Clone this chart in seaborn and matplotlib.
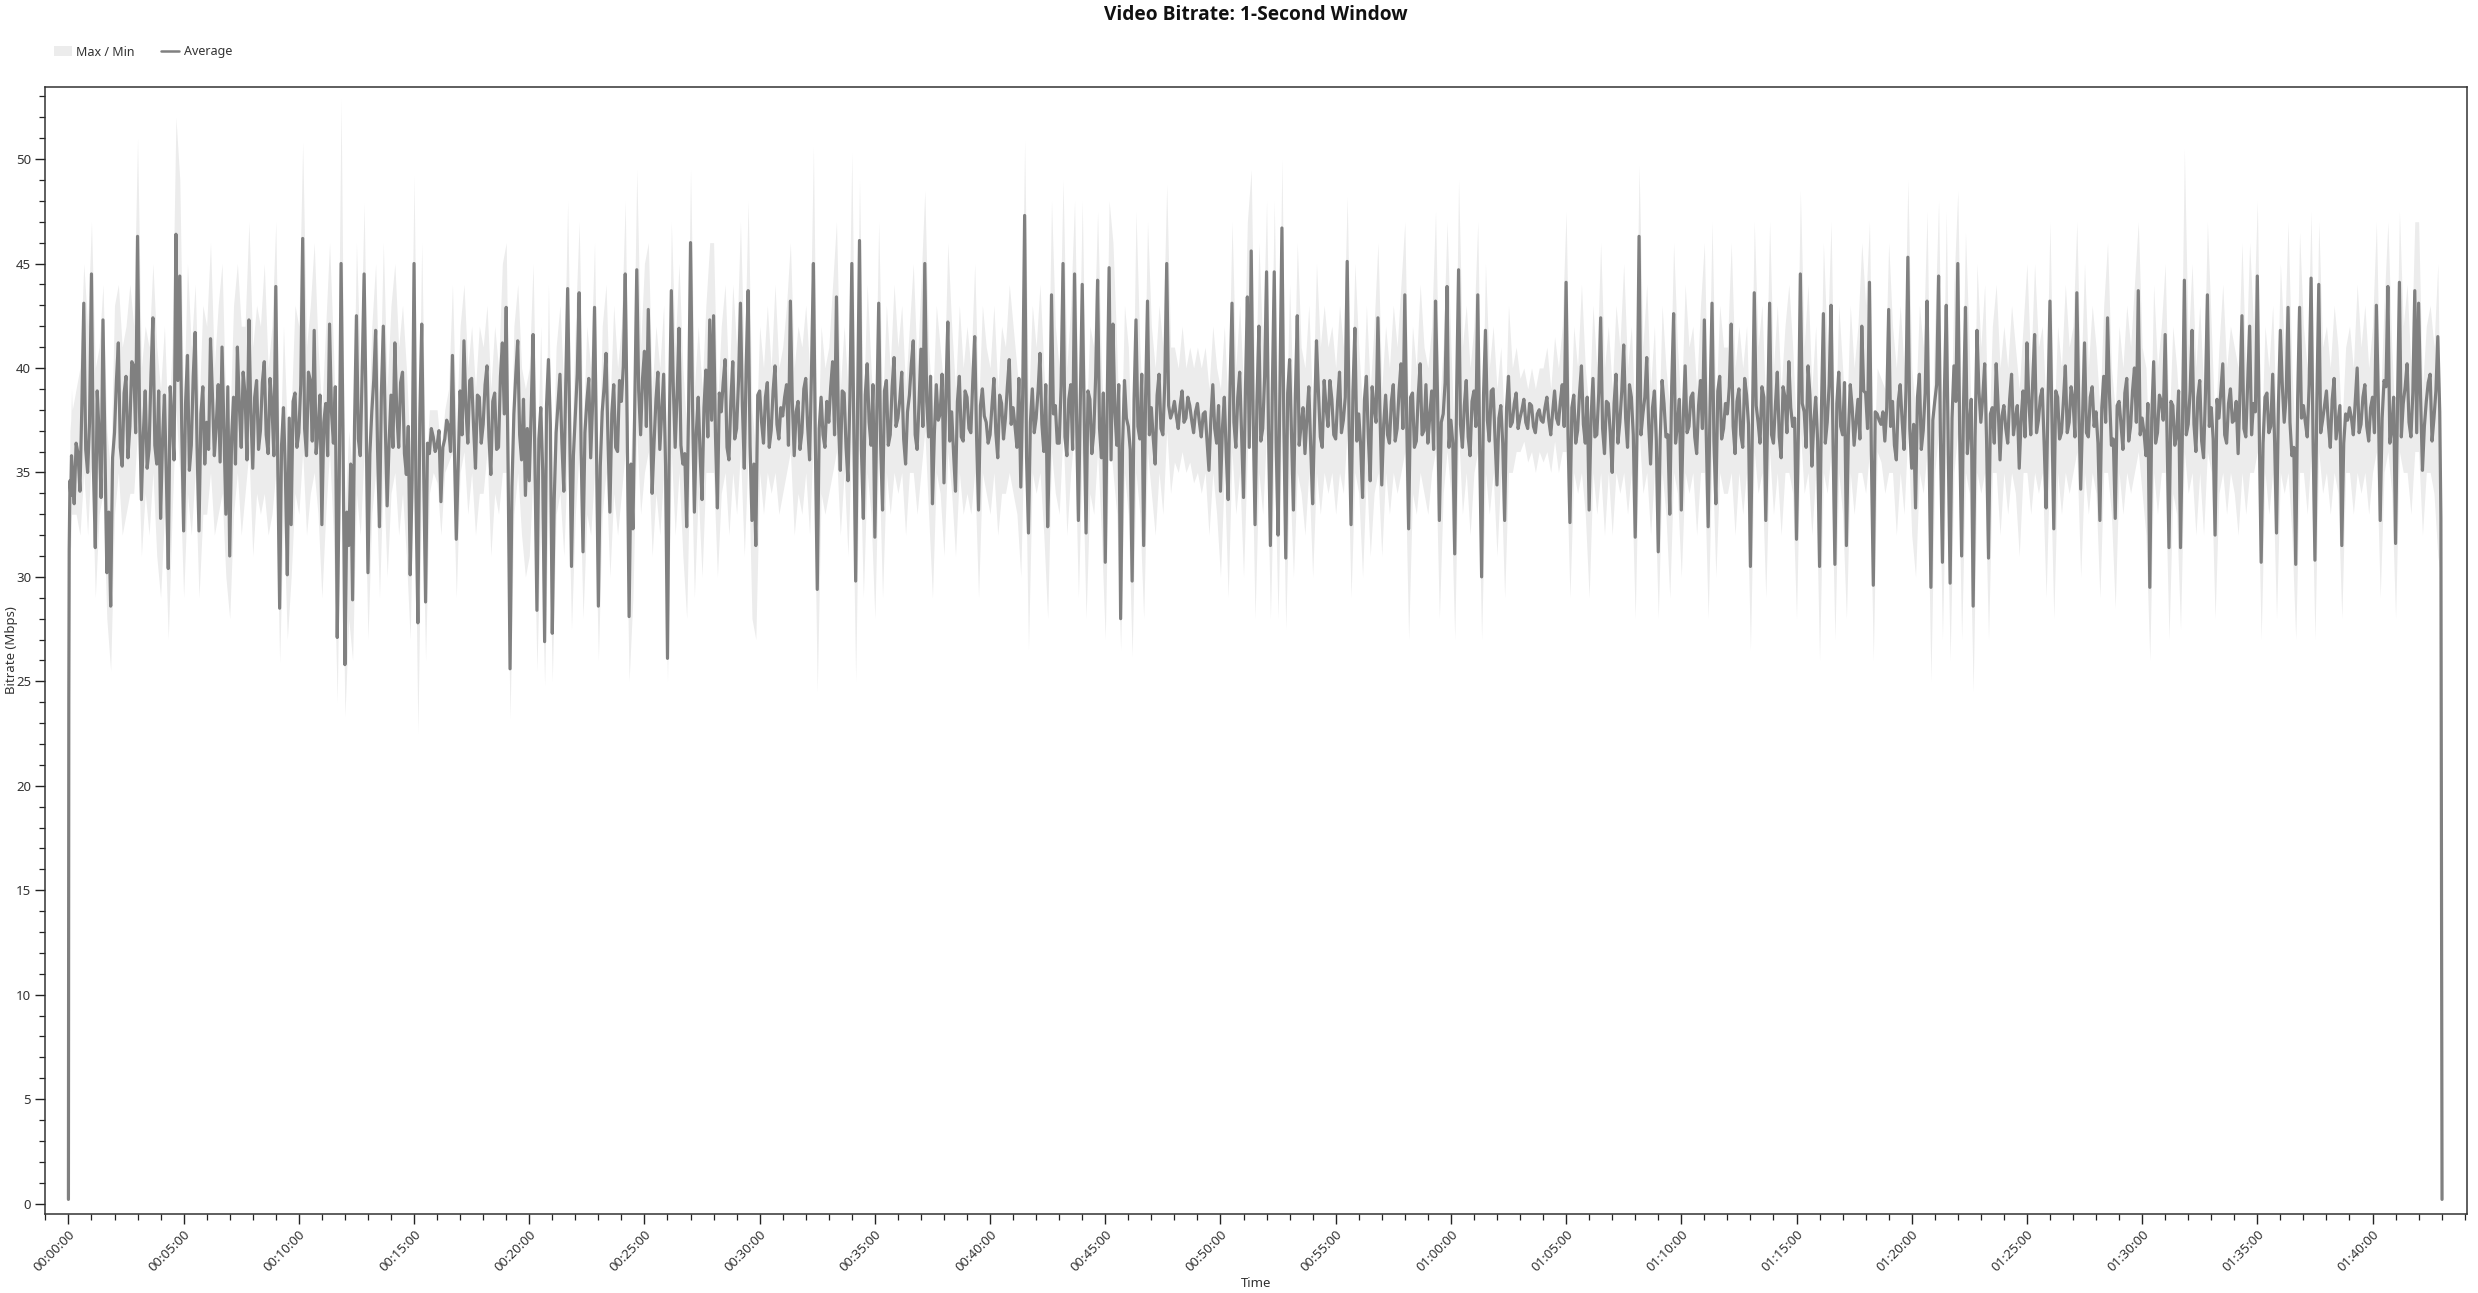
import numpy as np
import pandas as pd
import matplotlib
matplotlib.use("Agg")
import matplotlib.pyplot as plt
from matplotlib.ticker import MultipleLocator, FuncFormatter
from matplotlib.patches import Patch
from matplotlib.lines import Line2D
from matplotlib import font_manager
import seaborn as sns

# ---------------- data (Mbps) ----------------
# first seconds (ramp-up)
start_seconds = [0, 1, 2, 4, 6, 8]
start_avg = [0.2, 24.2, 31.3, 34.6, 33.9, 35.8]
start_max = [0.3, 26.0, 33.5, 37.0, 37.5, 39.0]
start_min = [0.0, 17.5, 24.0, 31.0, 31.5, 33.0]

# average, samples at t = 10, 20, 30 ... s (one row per minute)
avg_rows = [
    [35.2, 36.4, 34.1, 43.1, 35.0],
    [44.5, 31.4, 36.8, 42.3, 30.2, 28.6],
    [36.9, 41.2, 35.3, 39.6, 37.2, 40.1],
    [46.3, 33.7, 38.9, 36.1, 42.4, 35.4],
    [32.8, 38.7, 30.4, 37.5, 46.4, 44.4],
    [32.2, 40.6, 36.3, 41.7, 32.2, 39.1],
    [37.4, 41.4, 35.8, 39.2, 41.0, 33.0],
    [31.0, 38.6, 41.0, 36.2, 38.7, 42.3],
    [35.2, 39.4, 37.0, 40.3, 35.9, 38.2],
    [43.9, 28.5, 38.1, 30.1, 32.5, 38.8],
    [36.9, 46.2, 35.8, 39.4, 41.8, 37.0],
    [32.5, 38.3, 42.1, 36.4, 27.1, 45.0],
    [25.8, 31.5, 28.9, 42.5, 35.8, 44.5],
    [30.2, 37.9, 41.8, 32.4, 42.0, 33.4],
    [38.7, 41.2, 36.2, 39.8, 34.9, 30.1],
    [45.0, 27.8, 42.1, 28.8, 35.9, 36.7],
    [36.3, 33.6, 36.6, 37.2, 40.6, 31.8],
    [38.9, 41.3, 36.4, 39.5, 35.2, 38.6],
    [37.3, 40.1, 34.9, 38.8, 36.2, 41.2],
    [42.9, 25.6, 37.8, 41.3, 35.6, 33.9],
    [34.6, 41.6, 28.4, 38.1, 26.9, 40.4],
    [27.3, 36.9, 39.7, 34.1, 43.8, 30.5],
    [37.8, 43.6, 31.2, 38.4, 35.7, 42.9],
    [28.6, 37.9, 40.7, 33.1, 39.2, 36.0],
    [38.4, 44.5, 28.1, 32.3, 44.7, 36.8],
    [40.8, 42.8, 34.0, 38.5, 36.1, 39.7],
    [26.1, 43.7, 36.2, 41.9, 35.4, 32.4],
    [46.0, 33.1, 38.6, 33.7, 39.9, 42.3],
    [42.5, 33.3, 37.9, 40.4, 35.6, 40.3],
    [37.1, 43.1, 35.2, 43.7, 32.7, 31.5],
    [38.9, 36.4, 39.3, 37.0, 40.1, 36.6],
    [37.7, 39.2, 43.2, 35.8, 38.4, 36.9],
    [39.5, 35.6, 45.0, 29.4, 38.6, 36.2],
    [37.4, 40.3, 43.4, 35.1, 38.8, 34.6],
    [45.0, 29.8, 46.1, 32.8, 40.2, 36.3],
    [31.9, 43.1, 33.2, 39.4, 36.8, 40.5],
    [37.6, 39.8, 35.4, 38.7, 41.3, 36.1],
    [40.9, 45.0, 36.7, 33.5, 39.2, 37.8],
    [34.5, 42.2, 37.9, 34.1, 39.6, 36.5],
    [38.6, 36.9, 41.5, 33.2, 39.0, 37.4],
    [36.8, 39.5, 35.7, 38.3, 37.6, 40.4],
    [38.1, 36.2, 34.3, 47.3, 32.1, 39.0],
    [37.6, 40.7, 36.0, 32.4, 43.5, 38.2],
    [36.4, 45.0, 35.8, 39.2, 44.5, 32.7],
    [44.0, 32.1, 38.5, 36.9, 44.2, 35.7],
    [30.7, 44.8, 42.1, 36.3, 28.0, 39.4],
    [37.2, 29.8, 42.3, 36.6, 31.5, 43.2],
    [38.1, 35.4, 39.7, 36.8, 45.0, 37.6],
    [38.4, 37.1, 38.9, 37.6, 38.2, 36.9],
    [38.3, 36.7, 37.9, 35.1, 39.2, 36.4],
    [34.1, 38.6, 33.7, 43.1, 36.2, 39.8],
    [33.8, 43.4, 45.6, 32.5, 42.0, 37.1],
    [44.6, 31.5, 44.6, 32.0, 46.7, 30.9],
    [40.4, 33.2, 42.5, 37.3, 35.9, 39.1],
    [33.5, 41.3, 36.7, 39.4, 37.2, 38.5],
    [36.6, 39.8, 37.5, 45.1, 32.5, 41.9],
    [37.8, 33.8, 39.6, 34.6, 38.1, 42.4],
    [34.4, 38.7, 36.4, 39.2, 37.1, 40.2],
    [43.5, 32.3, 38.8, 36.5, 40.2, 37.0],
    [36.4, 38.9, 43.2, 32.7, 37.8, 43.9],
    [37.5, 31.1, 44.7, 36.2, 39.4, 35.8],
    [38.9, 43.5, 30.0, 41.8, 36.5, 39.0],
    [34.4, 38.2, 32.7, 39.6, 37.4, 38.8],
    [37.6, 38.5, 37.1, 38.2, 36.9, 38.0],
    [37.4, 38.6, 36.8, 38.9, 37.3, 39.2],
    [44.1, 32.6, 38.7, 37.0, 40.1, 36.4],
    [33.2, 39.5, 36.8, 42.4, 35.9, 38.3],
    [35.0, 39.7, 37.4, 41.1, 36.2, 38.6],
    [31.9, 46.3, 37.8, 40.5, 35.4, 38.9],
    [31.2, 39.4, 36.7, 33.0, 42.6, 37.3],
    [33.2, 40.1, 37.2, 38.8, 35.9, 39.4],
    [42.3, 32.4, 43.1, 33.5, 39.6, 37.1],
    [37.8, 42.1, 35.9, 39.0, 36.2, 38.7],
    [30.5, 43.6, 37.4, 39.1, 32.7, 43.1],
    [36.4, 39.8, 35.7, 38.6, 40.3, 37.2],
    [31.8, 44.5, 37.9, 40.1, 35.3, 38.6],
    [30.5, 42.6, 37.4, 43.0, 30.6, 39.8],
    [36.8, 31.5, 39.2, 36.3, 38.5, 42.0],
    [38.8, 44.1, 29.6, 37.8, 37.3, 36.5],
    [42.8, 38.4, 35.6, 39.2, 36.1, 45.3],
    [35.2, 33.3, 39.7, 37.0, 43.2, 29.5],
    [38.4, 44.4, 30.7, 43.0, 29.7, 40.1],
    [45.0, 31.0, 42.9, 37.3, 28.6, 41.8],
    [37.4, 40.2, 30.9, 38.1, 40.2, 35.6],
    [38.2, 36.4, 39.7, 37.6, 35.2, 38.9],
    [41.2, 36.8, 41.6, 37.5, 39.0, 33.3],
    [43.2, 32.3, 38.6, 36.9, 40.1, 37.4],
    [38.5, 43.6, 34.2, 41.2, 36.7, 39.1],
    [37.9, 32.7, 39.6, 42.4, 36.3, 32.8],
    [38.4, 36.1, 39.5, 37.2, 40.0, 43.7],
    [37.6, 35.8, 29.5, 40.3, 36.9, 38.4],
    [41.6, 31.4, 38.2, 36.8, 31.4, 44.2],
    [37.3, 41.8, 36.0, 39.4, 35.7, 43.5],
    [38.1, 32.0, 37.6, 40.2, 36.4, 39.0],
    [37.5, 35.9, 42.5, 36.7, 42.0, 38.3],
    [44.4, 30.7, 38.6, 36.9, 39.7, 32.1],
    [41.8, 37.4, 42.9, 35.8, 30.6, 42.9],
    [38.2, 36.7, 44.3, 30.8, 44.0, 37.5],
    [38.9, 36.2, 39.5, 37.4, 31.5, 37.8],
    [38.1, 36.8, 40.0, 37.3, 39.2, 36.5],
    [38.6, 43.0, 32.7, 39.4, 43.9, 37.1],
    [31.6, 44.1, 38.3, 40.2, 36.7, 43.7],
    [43.1, 35.1, 38.4, 39.7, 37.6, 41.5],
]

# average, in-between samples at t = 15, 25, 35 ... s (dense core of the band)
avg_mid_rows = [
    [33.5, 35.9, 38.2, 36.1, 37.4],
    [35.2, 38.9, 33.8, 36.4, 33.1, 35.7],
    [39.4, 36.2, 38.8, 35.7, 40.3, 36.9],
    [38.1, 36.8, 35.2, 39.7, 36.3, 38.9],
    [36.5, 34.8, 39.1, 35.6, 39.4, 37.2],
    [38.3, 35.1, 39.6, 36.2, 37.8, 35.4],
    [36.1, 38.7, 37.3, 35.5, 36.9, 39.1],
    [36.7, 35.4, 38.2, 39.8, 35.6, 37.9],
    [38.6, 36.1, 39.3, 36.8, 39.5, 35.8],
    [35.6, 36.3, 34.9, 37.6, 38.4, 36.2],
    [39.2, 37.1, 39.8, 36.5, 35.9, 38.7],
    [37.4, 35.8, 37.9, 39.1, 34.2, 36.8],
    [33.1, 35.4, 37.2, 36.6, 39.8, 38.1],
    [35.9, 39.4, 36.1, 38.8, 37.3, 36.4],
    [36.2, 37.9, 39.3, 35.9, 37.2, 34.6],
    [33.9, 37.6, 35.2, 36.4, 37.1, 36.0],
    [37.0, 36.2, 37.5, 36.0, 36.1, 35.4],
    [36.8, 38.1, 39.4, 37.2, 38.7, 36.4],
    [39.2, 36.7, 38.4, 36.1, 39.6, 37.8],
    [35.1, 34.3, 39.7, 36.8, 38.5, 37.1],
    [37.9, 35.2, 36.6, 35.1, 38.2, 37.3],
    [33.7, 38.3, 36.4, 39.2, 37.6, 35.8],
    [39.7, 36.2, 36.9, 39.5, 38.3, 36.4],
    [35.3, 39.1, 36.6, 37.8, 36.2, 39.4],
    [40.1, 37.3, 35.4, 38.6, 38.9, 39.5],
    [37.2, 38.6, 36.4, 39.8, 37.9, 35.3],
    [37.6, 39.2, 38.7, 36.3, 35.9, 38.1],
    [38.4, 36.9, 35.8, 38.1, 36.7, 37.5],
    [36.7, 38.8, 39.3, 36.2, 38.4, 36.6],
    [39.4, 38.2, 40.1, 36.3, 35.4, 38.7],
    [37.4, 38.6, 36.2, 38.9, 37.3, 38.1],
    [38.6, 36.3, 38.4, 37.9, 36.1, 39.0],
    [37.2, 39.8, 36.4, 37.1, 36.8, 38.4],
    [39.1, 36.8, 37.5, 38.9, 36.2, 38.6],
    [37.6, 38.2, 36.1, 38.7, 37.4, 39.2],
    [37.8, 36.4, 38.9, 36.3, 39.1, 37.2],
    [38.5, 36.6, 37.9, 40.2, 36.8, 38.3],
    [37.2, 38.4, 39.6, 36.9, 37.5, 39.7],
    [38.8, 36.5, 35.9, 38.4, 36.7, 38.9],
    [37.1, 39.4, 36.6, 38.2, 37.7, 36.4],
    [38.2, 36.9, 38.7, 36.6, 39.1, 37.3],
    [37.2, 39.5, 38.8, 35.7, 37.4, 36.9],
    [38.9, 37.3, 39.2, 36.5, 37.8, 36.4],
    [39.1, 36.7, 38.5, 36.1, 37.9, 38.4],
    [37.8, 38.9, 35.9, 39.6, 37.1, 38.8],
    [38.3, 35.6, 37.9, 39.2, 36.3, 37.6],
    [36.1, 38.5, 37.2, 39.7, 38.6, 36.8],
    [36.6, 38.7, 37.1, 39.3, 38.2, 37.9],
    [37.7, 38.2, 37.4, 38.6, 37.5, 37.9],
    [37.4, 37.8, 36.5, 37.6, 37.1, 38.2],
    [37.1, 35.9, 39.2, 37.4, 38.6, 36.8],
    [38.9, 36.2, 37.8, 38.4, 36.5, 39.6],
    [37.1, 38.9, 36.4, 39.3, 37.2, 38.8],
    [36.9, 38.7, 36.3, 38.1, 37.6, 36.2],
    [37.6, 38.9, 36.2, 38.1, 39.4, 36.8],
    [38.4, 36.9, 38.6, 37.2, 38.9, 36.5],
    [36.3, 38.5, 36.7, 39.1, 37.4, 38.1],
    [37.3, 36.8, 38.4, 36.5, 38.9, 37.1],
    [37.4, 38.6, 36.2, 38.7, 36.8, 39.2],
    [37.7, 36.1, 38.8, 37.4, 39.3, 36.2],
    [36.4, 38.9, 37.3, 38.2, 36.7, 38.4],
    [37.2, 36.1, 38.7, 37.5, 38.9, 36.6],
    [37.6, 36.4, 38.1, 37.2, 38.3, 37.1],
    [38.0, 37.4, 38.3, 37.2, 37.8, 37.5],
    [38.1, 37.5, 37.9, 37.6, 38.4, 37.2],
    [36.8, 38.1, 36.4, 38.8, 37.3, 38.6],
    [37.6, 36.7, 38.8, 37.1, 38.4, 36.9],
    [38.3, 36.4, 38.9, 37.6, 39.2, 36.8],
    [37.4, 36.8, 38.6, 37.3, 38.1, 36.5],
    [36.6, 38.3, 36.8, 39.1, 36.4, 38.5],
    [37.5, 36.9, 38.6, 36.7, 38.2, 37.1],
    [36.8, 38.4, 36.5, 38.9, 36.6, 38.3],
    [39.1, 37.2, 38.4, 36.8, 39.5, 37.3],
    [36.9, 38.2, 36.4, 38.6, 37.9, 36.8],
    [38.2, 36.7, 39.1, 36.9, 38.1, 37.6],
    [37.1, 38.3, 36.2, 38.7, 37.4, 36.5],
    [38.1, 36.4, 39.2, 36.6, 38.3, 37.2],
    [39.3, 36.8, 38.1, 37.4, 36.6, 38.9],
    [37.1, 35.8, 37.9, 37.5, 37.9, 38.1],
    [37.2, 36.3, 38.4, 37.5, 38.9, 37.1],
    [37.3, 38.6, 36.1, 38.8, 36.4, 37.5],
    [39.2, 36.4, 38.8, 36.3, 37.6, 38.4],
    [36.8, 38.3, 35.9, 38.5, 36.7, 38.9],
    [38.6, 36.5, 37.8, 36.4, 38.2, 37.7],
    [37.1, 38.5, 36.8, 38.2, 37.6, 36.7],
    [38.4, 39.3, 36.9, 38.6, 36.3, 38.5],
    [37.6, 38.9, 36.6, 38.4, 36.9, 39.1],
    [36.7, 38.2, 37.8, 36.9, 38.6, 37.2],
    [36.4, 38.1, 37.4, 38.7, 36.6, 38.2],
    [37.3, 38.8, 36.5, 38.9, 37.4, 36.8],
    [36.9, 38.3, 37.6, 36.4, 38.7, 37.5],
    [36.7, 38.4, 36.3, 38.9, 37.1, 36.8],
    [38.9, 37.3, 38.6, 36.5, 38.8, 37.2],
    [36.6, 38.5, 38.9, 36.8, 38.3, 37.4],
    [38.4, 38.9, 37.1, 39.3, 36.8, 37.9],
    [37.1, 36.4, 38.8, 37.2, 36.5, 38.3],
    [39.2, 38.6, 37.4, 36.2, 38.5, 37.6],
    [37.4, 39.2, 36.7, 38.4, 36.9, 38.2],
    [37.3, 38.5, 36.6, 38.2, 36.4, 37.5],
    [37.6, 38.4, 36.9, 38.6, 37.2, 38.1],
    [36.9, 38.5, 37.6, 39.1, 36.4, 38.6],
    [38.2, 36.7, 39.1, 37.4, 38.8, 36.9],
    [38.7, 37.2, 39.3, 36.5, 38.9, 37.9],
]

# per-second maximum, at t = 10, 20, 30 ... s
max_rows = [
    [38, 39, 40, 45, 42],
    [47, 40, 41, 44, 37, 35],
    [43, 44, 41, 42, 44, 42],
    [51, 40, 42, 41, 45, 41],
    [39, 42, 37, 41, 52, 49],
    [38, 45, 41, 44, 38, 43],
    [42, 46, 40, 43, 45, 38],
    [37, 43, 45, 42, 42, 47],
    [41, 43, 42, 45, 40, 42],
    [47, 35, 42, 37, 38, 43],
    [42, 50.8, 41, 43, 46, 41],
    [38, 42, 46, 41, 35, 52.9],
    [33, 37, 35, 46, 40, 47.9],
    [36, 42, 45, 38, 46, 39],
    [43, 45, 41, 43, 40, 36],
    [49.2, 34, 46, 35, 38, 38],
    [38, 36, 38, 39, 44, 37],
    [42, 44, 40, 42, 39, 42],
    [41, 43, 39, 42, 40, 45],
    [46, 33, 42, 44, 40, 39],
    [40, 45, 35, 42, 33, 44],
    [34, 41, 43, 39, 48, 36],
    [42, 47, 37, 42, 40, 46],
    [34, 42, 44, 38, 43, 40],
    [42, 48, 34, 38, 49.5, 41],
    [45, 46, 39, 42, 40, 43],
    [33, 47, 41, 45, 40, 37],
    [49.5, 39, 42, 39, 43, 46],
    [46, 38, 42, 44, 39, 44],
    [41, 47, 40, 48, 38, 36],
    [42, 40, 43, 40, 44, 40],
    [41, 43, 46, 40, 42, 41],
    [43, 40, 50.6, 35, 42, 40],
    [41, 44, 47, 39, 42, 39],
    [50.3, 36, 49, 38, 44, 40],
    [37, 47, 38, 43, 40, 44],
    [41, 43, 39, 42, 45, 40],
    [44, 48.5, 41, 38, 43, 41],
    [39, 46, 42, 39, 43, 40],
    [42, 40, 45, 38, 43, 41],
    [40, 43, 39, 42, 41, 44],
    [42, 40, 38, 50.9, 38, 43],
    [41, 44, 40, 37, 48, 42],
    [40, 49, 40, 43, 48, 38],
    [48, 37, 42, 41, 47.5, 40],
    [36, 48, 46, 41, 35, 43],
    [41, 35, 47.5, 41, 37, 47],
    [42, 40, 43, 41, 48.8, 41],
    [41, 40, 42, 40, 41, 40],
    [41, 40, 41, 39, 42, 40],
    [39, 42, 38, 47, 40, 43],
    [39, 47, 49.5, 38, 46, 41],
    [48, 37, 48, 37, 50, 36],
    [44, 38, 46, 41, 40, 43],
    [38, 45, 41, 43, 41, 42],
    [40, 43, 41, 48.2, 38, 45],
    [41, 38, 43, 39, 42, 46],
    [39, 42, 40, 43, 41, 44],
    [47, 37, 42, 40, 44, 41],
    [40, 42, 47.5, 38, 41, 47],
    [41, 36, 49, 41, 43, 40],
    [42, 47, 35, 45, 40, 42],
    [39, 41, 37, 43, 40, 41],
    [39.5, 40, 39, 40, 39, 40],
    [40, 41, 39, 41.5, 40, 42],
    [47.5, 37, 42, 40, 44, 40],
    [38, 43, 40, 46, 40, 42],
    [39, 43, 41, 45, 40, 42],
    [37, 49.7, 41, 44, 39, 42],
    [36, 43, 40, 38, 46, 41],
    [38, 44, 41, 42, 39, 43],
    [46, 37, 47, 38, 43, 41],
    [41, 46, 40, 42, 40, 42],
    [36, 47, 41, 43, 38, 47],
    [40, 43, 39, 42, 44, 41],
    [37, 48.5, 41, 44, 39, 42],
    [36, 46, 41, 47, 36, 43],
    [40, 37, 43, 40, 42, 46],
    [43, 47, 35, 40, 39.5, 39],
    [46, 42, 40, 43, 40, 49],
    [40, 38, 43, 41, 47.5, 35],
    [42, 48, 36, 47.5, 35, 44],
    [48.5, 37, 46.5, 41, 34, 45],
    [41, 44, 36, 42, 44, 40],
    [42, 40, 43, 41, 39, 42],
    [45, 40, 45, 41, 42, 38],
    [47, 37, 42, 40, 44, 41],
    [42, 47, 39, 45, 40, 43],
    [41, 38, 43, 46, 40, 38],
    [42, 40, 43, 41, 44, 47],
    [41, 40, 35, 44, 40, 42],
    [45, 37, 42, 40, 37, 50.5],
    [41, 45, 40, 43, 39, 47],
    [42, 37, 41, 44, 40, 42],
    [41, 40, 46, 40, 46, 42],
    [48, 36, 42, 40, 43, 37],
    [45, 41, 47, 40, 36, 46.5],
    [42, 40, 47.5, 36, 47, 41],
    [42, 40, 43, 41, 37, 41],
    [42, 40, 44, 41, 43, 40],
    [42, 47, 38, 43, 47, 41],
    [37, 47.5, 42, 44, 40, 47],
    [47, 39, 42, 43, 41, 45],
]

# per-second minimum, at t = 10, 20, 30 ... s
min_rows = [
    [33, 33, 32, 35, 32],
    [36, 29, 33, 34, 28, 25.5],
    [33, 35, 32, 33, 34, 34],
    [37, 31, 34, 32, 35, 31],
    [29, 33, 27, 33, 38, 35],
    [29, 34, 32, 35, 29, 33],
    [33, 35, 32, 33, 34, 30],
    [28, 33, 35, 32, 34, 36],
    [31, 34, 33, 34, 32, 33],
    [35, 25.9, 33, 27, 30, 34],
    [33, 36, 32, 34, 35, 33],
    [29, 33, 36, 32, 24, 37],
    [23.3, 28, 26, 34, 32, 36],
    [27, 33, 35, 29, 35, 30],
    [34, 35, 32, 34, 31, 27],
    [37, 22.5, 35, 26, 34, 35],
    [34.5, 32, 35, 35.5, 36, 29],
    [35, 36, 33, 35, 32, 34],
    [34, 36, 31, 34, 33, 35],
    [35, 23.2, 33, 35, 32, 30],
    [31, 35, 25.5, 33, 24.8, 34],
    [25, 33, 34, 31, 36, 27.5],
    [33, 36, 28, 33, 32, 35],
    [26, 33, 35, 30, 34, 32],
    [34, 36, 25, 29, 37, 33],
    [35, 36, 31, 34, 32, 35],
    [25, 36, 32, 35, 31, 28],
    [37, 29, 34, 30, 35, 35],
    [35, 30, 34, 35, 32, 35],
    [33, 36, 31, 36, 28, 27],
    [35, 33, 35, 34, 35, 33],
    [34, 35, 36, 32, 34, 33],
    [35, 32, 37, 24.5, 34, 33],
    [34, 35, 36, 32, 35, 31],
    [37, 25, 37, 29, 35, 33],
    [28, 36, 29, 35, 33, 35],
    [34, 35, 32, 35, 35, 33],
    [35, 37, 33, 29, 35, 34],
    [31, 36, 34, 31, 35, 33],
    [34, 33, 35, 29, 35, 34],
    [33, 35, 32, 34, 34, 35],
    [34, 33, 30, 38, 26.5, 35],
    [34, 35, 32, 28, 36, 34],
    [33, 37, 32, 35, 37, 29],
    [36, 28, 34, 33, 36, 32],
    [27, 37, 35, 33, 26.5, 35],
    [33, 26.2, 35, 33, 28, 36],
    [34, 32, 35, 33, 37, 34],
    [35.5, 35, 36, 35, 35.5, 34.5],
    [35, 34, 35, 32, 35, 33],
    [30, 35, 29, 36, 33, 35],
    [30, 36, 38, 28, 35, 33],
    [37, 28, 36, 28, 38, 27.5],
    [35, 30, 35, 34, 32, 35],
    [30, 35, 33, 35, 34, 35],
    [33, 35, 34, 37, 29, 35],
    [34, 30, 35, 31, 34, 35],
    [31, 35, 33, 35, 34, 35],
    [36, 27, 34, 33, 35, 34],
    [33, 35, 36, 28, 34, 36],
    [34, 27, 37, 33, 35, 32],
    [35, 36, 27, 35, 33, 35],
    [31, 35, 29, 35, 35, 36],
    [36, 36.5, 35.5, 36, 35, 36],
    [35.5, 36, 35, 36.5, 35, 36],
    [36, 29, 35, 34, 35, 33],
    [29, 35, 33, 35, 32, 35],
    [32, 35, 34, 35, 33, 35],
    [28, 37, 34, 35, 32, 35],
    [28, 35, 33, 29, 35, 34],
    [30, 35, 34, 35, 32, 35],
    [35, 28, 36, 30, 35, 34],
    [34, 35, 32, 35, 33, 35],
    [26.5, 36, 34, 35, 29, 36],
    [33, 35, 32, 35, 35, 34],
    [28, 37, 34, 35, 32, 35],
    [26, 35, 34, 36, 27, 35],
    [33, 28, 35, 33, 35, 35],
    [34, 36, 26, 36, 35.5, 34],
    [35, 35, 32, 35, 33, 37],
    [32, 30, 35, 34, 36, 25],
    [35, 37, 27, 36, 26, 35],
    [37, 27, 35, 34, 24.5, 35],
    [34, 35, 27, 35, 35, 32],
    [35, 33, 35, 34, 31, 35],
    [35, 33, 35, 34, 35, 29],
    [36, 28, 35, 33, 35, 34],
    [35, 36, 30, 35, 33, 35],
    [34, 29, 35, 35, 33, 28.5],
    [35, 33, 35, 34, 35, 36],
    [34, 32, 26, 35, 33, 35],
    [35, 27, 34, 33, 27.5, 36],
    [34, 35, 32, 35, 32, 36],
    [35, 28, 34, 35, 33, 35],
    [34, 32, 35, 33, 35, 35],
    [36, 27, 35, 33, 35, 28],
    [35, 34, 35, 32, 27, 35],
    [35, 33, 36, 27, 36, 34],
    [35, 33, 35, 34, 28, 35],
    [35, 33, 35, 34, 35, 33],
    [35, 36, 29, 35, 36, 34],
    [28, 36, 35, 35, 33, 36],
    [36, 32, 35, 35, 34, 31],
]

# last seconds (drop to zero)
end_seconds = [6178, 6181]
end_avg = [32.8, 0.2]
end_max = [35.0, 0.3]
end_min = [30.0, 0.1]

# ---------------- assemble ----------------
avg_main = [v for row in avg_rows for v in row]
avg_mid = [v for row in avg_mid_rows for v in row]
max_main = [v for row in max_rows for v in row]
min_main = [v for row in min_rows for v in row]
n = min(len(avg_main), len(max_main), len(min_main))
main_seconds = list(10 + 10 * np.arange(n))
mid_seconds = list(15 + 10 * np.arange(len(avg_mid)))

env = pd.DataFrame({
    "seconds": start_seconds + main_seconds + end_seconds,
    "max": start_max + max_main[:n] + end_max,
    "min": start_min + min_main[:n] + end_min,
})
line = pd.DataFrame({
    "seconds": start_seconds + main_seconds + mid_seconds + end_seconds,
    "avg": start_avg + avg_main[:n] + avg_mid + end_avg,
}).sort_values("seconds")

# ---------------- style ----------------
sns.set_style("ticks")
plt.rcParams["font.family"] = ["Noto Sans", "DejaVu Sans"]
plt.rcParams["axes.linewidth"] = 1.1
plt.rcParams["xtick.major.width"] = 1.0
plt.rcParams["ytick.major.width"] = 1.0
plt.rcParams["xtick.minor.width"] = 0.9
plt.rcParams["ytick.minor.width"] = 0.9

bold_family = "DejaVu Sans"
for fam in ["Open Sans", "Noto Sans", "Lato", "Roboto", "Liberation Sans"]:
    try:
        path = font_manager.findfont(
            font_manager.FontProperties(family=fam, weight="bold"), fallback_to_default=False)
        if "bold" in path.lower():
            bold_family = fam
            break
    except Exception:
        pass

LINE = "#808080"
FILL = "#ececec"
TXT = "#333333"

fig = plt.figure(figsize=(24.78, 12.93), dpi=100)
ax = fig.add_axes([45 / 2478, 1 - 1214 / 1293, (2467 - 45) / 2478, (1214 - 87) / 1293])

ax.fill_between(env["seconds"], env["min"], env["max"], color=FILL, linewidth=0, zorder=1)
sns.lineplot(data=line, x="seconds", y="avg", ax=ax, color=LINE, linewidth=2.3,
             estimator=None, sort=True, legend=False, zorder=2)

ax.set_xlim(-61, 6246)
ax.set_ylim(-0.5, 53.45)

ax.xaxis.set_major_locator(MultipleLocator(300))
ax.xaxis.set_minor_locator(MultipleLocator(60))
ax.yaxis.set_major_locator(MultipleLocator(5))
ax.yaxis.set_minor_locator(MultipleLocator(1))


def hms(x, pos):
    s = int(round(x))
    return f"{s // 3600:02d}:{(s % 3600) // 60:02d}:{s % 60:02d}"


ax.xaxis.set_major_formatter(FuncFormatter(hms))
ax.tick_params(axis="both", which="major", length=7, color="#222222", labelsize=9.5,
               labelcolor=TXT, pad=3)
ax.tick_params(axis="both", which="minor", length=4.5, color="#222222")
for lab in ax.get_xticklabels():
    lab.set_rotation(45)
    lab.set_ha("right")
    lab.set_rotation_mode("anchor")

for sp in ax.spines.values():
    sp.set_visible(True)
    sp.set_color("#333333")

ax.set_xlabel("Time", fontsize=9.5, color=TXT)
ax.set_ylabel("Bitrate (Mbps)", fontsize=9.5, color=TXT)
ax.xaxis.set_label_coords(0.5, -0.056)
ax.yaxis.set_label_coords(-0.0112, 0.5)

fig.text(1256 / 2478, 1 - 15 / 1293, "Video Bitrate: 1-Second Window",
         ha="center", va="center", fontsize=13.8, fontweight="bold", color="#111111",
         family=[bold_family, "DejaVu Sans"])

handles = [Patch(facecolor=FILL, edgecolor="none", label="Max / Min"),
           Line2D([0], [0], color=LINE, linewidth=1.8, label="Average")]
fig.legend(handles=handles, loc="center left", bbox_to_anchor=(54 / 2478, 1 - 52 / 1293),
           ncol=2, frameon=False, fontsize=9, handlelength=1.4, handleheight=0.9,
           handletextpad=0.4, columnspacing=2.1, borderpad=0, borderaxespad=0,
           labelcolor=TXT)

fig.savefig("out.png", dpi=100)
